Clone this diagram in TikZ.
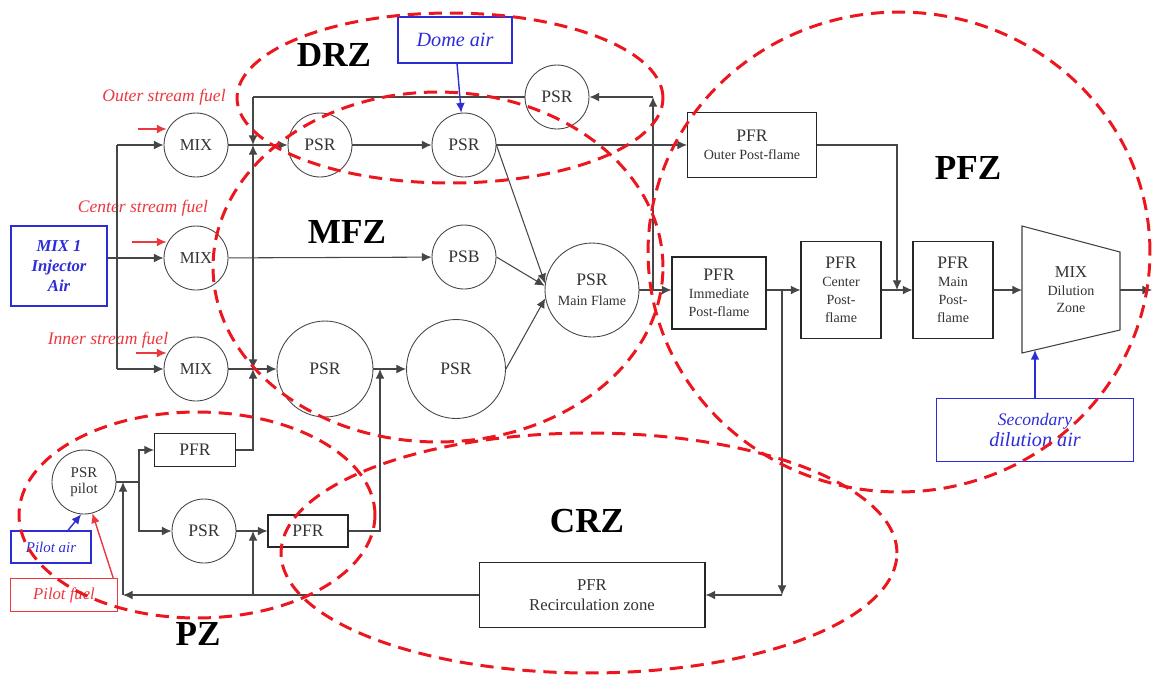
\documentclass[tikz,border=0pt]{standalone}
\usepackage{fontspec}
\setmainfont{Liberation Serif}
\usetikzlibrary{arrows.meta,calc}
\usepackage{xcolor}

\definecolor{zonered}{RGB}{236,22,30}
\definecolor{airblue}{RGB}{45,45,215}
\definecolor{fuelred}{RGB}{236,55,62}
\definecolor{linegray}{RGB}{70,70,70}

\newcommand{\reacsub}{\fontsize{8}{10}\selectfont}

\tikzset{
    reactor/.style={circle, draw=linegray, line width=0.5pt, minimum size=1.28cm, inner sep=0pt,
        align=center, text=black!80, font=\fontsize{10}{10.5}\selectfont},
    pfrbox/.style={rectangle, draw=black!85, line width=0.6pt, inner sep=0pt,
        align=center, text=black!80, font=\fontsize{10}{10.2}\selectfont},
    airbox/.style={rectangle, draw=airblue, line width=0.8pt, inner sep=0pt,
        align=center, text=airblue, font=\itshape\fontsize{10}{11.5}\selectfont},
    fuelbox/.style={rectangle, draw=fuelred, line width=0.8pt, inner sep=0pt,
        align=center, text=fuelred, font=\itshape\fontsize{9.5}{11}\selectfont},
    fuellabel/.style={text=fuelred, font=\itshape\fontsize{10}{12}\selectfont},
    zone/.style={draw=zonered, line width=1.7pt, dash pattern=on 7.5pt off 4.5pt},
    zonelabel/.style={font=\bfseries\fontsize{20}{24}\selectfont},
    flowline/.style={draw=linegray, line width=0.6pt},
    flow/.style={flowline, ->},
    airflow/.style={draw=airblue, line width=0.8pt, ->},
    fuelflow/.style={draw=fuelred, line width=0.8pt, ->},
}

\begin{document}
\begin{tikzpicture}[x=0.02cm, y=-0.02cm, >={Latex[length=5.5pt,width=5pt]}]

    \useasboundingbox (0,0) rectangle (1159,677);

    %feeds
    \node[airbox, font=\bfseries\itshape\fontsize{9.5}{11.3}\selectfont,
        minimum width=1.92cm, minimum height=1.6cm] (mixone) at (59,266) {MIX 1\\Injector\\Air};
    \node[airbox, font=\itshape\fontsize{11.5}{13}\selectfont,
        minimum width=2.28cm, minimum height=0.92cm] (dome) at (455,40) {Dome air};
    \node[airbox, minimum width=3.94cm, minimum height=1.26cm] (sda) at (1035,430)
        {Secondary\\[1pt]{\fontsize{11.5}{12}\selectfont dilution air}};
    \node[airbox, font=\itshape\fontsize{8.5}{10}\selectfont,
        minimum width=1.6cm, minimum height=0.64cm] (pair) at (51,547) {Pilot air};
    \node[fuelbox, minimum width=2.14cm, minimum height=0.66cm] (pfuel) at (64,595) {Pilot fuel};

    \node[fuellabel] (lblouter) at (164,97) {Outer stream fuel};
    \node[fuellabel] (lblcenter) at (143,208) {Center stream fuel};
    \node[fuellabel] (lblinner) at (108,340) {Inner stream fuel};

    %reactors
    \node[reactor, font=\fontsize{9.5}{10}\selectfont] (mixo) at (196,145) {MIX};
    \node[reactor, font=\fontsize{9.5}{10}\selectfont] (mixc) at (196,258) {MIX};
    \node[reactor, font=\fontsize{9.5}{10}\selectfont] (mixi) at (196,369) {MIX};
    \node[reactor] (psra) at (320,145) {PSR};
    \node[reactor] (psrb) at (464,145) {PSR};
    \node[reactor] (psrr) at (557,97) {PSR};
    \node[reactor] (psb) at (464,257) {PSB};
    \node[reactor, minimum size=1.92cm] (psrc) at (325,369) {PSR};
    \node[reactor, minimum size=1.98cm] (psrd) at (456,369) {PSR};
    \node[reactor, minimum size=1.88cm] (mfl) at (592,290) {PSR\\[1pt]\reacsub Main Flame};
    \node[reactor, font=\fontsize{8.5}{9.5}\selectfont] (pilot) at (84,482) {PSR\\pilot};
    \node[reactor] (psrp) at (204,531) {PSR};

    \node[pfrbox, minimum width=1.62cm, minimum height=0.66cm] (pfra) at (195,450) {PFR};
    \node[pfrbox, minimum width=1.6cm, minimum height=0.64cm] (pfrb) at (308,531) {PFR};
    \node[pfrbox, minimum width=2.58cm, minimum height=1.3cm] (ofl) at (752,145)
        {PFR\\\reacsub Outer Post-flame};
    \node[pfrbox, minimum width=1.88cm, minimum height=1.44cm] (ipf) at (719,293)
        {PFR\\\reacsub Immediate\\\reacsub Post-flame};
    \node[pfrbox, minimum width=1.6cm, minimum height=1.94cm] (cpf) at (841,290)
        {PFR\\\reacsub Center\\\reacsub Post-\\\reacsub flame};
    \node[pfrbox, minimum width=1.6cm, minimum height=1.94cm] (mpf) at (953,290)
        {PFR\\\reacsub Main\\\reacsub Post-\\\reacsub flame};
    \node[pfrbox, font=\fontsize{9.5}{11}\selectfont,
        minimum width=4.52cm, minimum height=1.3cm] (rec) at (592,595) {PFR\\Recirculation zone};

    %dilution zone
    \draw[draw=black!75, line width=0.6pt] (1022,226) -- (1120,252) -- (1120,330) -- (1022,353) -- cycle;
    \node[align=center, text=black!80, font=\fontsize{9.5}{10}\selectfont] (dztext) at (1071,290)
        {MIX\\\reacsub Dilution\\\reacsub Zone};
    \coordinate (dzin) at (1022,290);
    \coordinate (dzout) at (1120,290);
    \coordinate (dzbot) at (1035,350);
    \coordinate (exit) at (1152,290);

    %injector air
    \coordinate (injt) at (117,145);
    \coordinate (injb) at (117,369);
    \draw[flow] (mixone.east |- mixc) -- (mixc);
    \draw[flowline] (injt) -- (injb);
    \draw[flow] (injt) -- (mixo);
    \draw[flow] (injb) -- (mixi);

    %fuel streams
    \coordinate (fo) at (138,129);
    \coordinate (fc) at (132,242);
    \coordinate (fi) at (136,353);
    \draw[fuelflow] (fo) -- (fo -| mixo.155);
    \draw[fuelflow] (fc) -- (fc -| mixc.155);
    \draw[fuelflow] (fi) -- (fi -| mixi.155);

    %distribution line
    \coordinate (bt) at (253,97);
    \coordinate (bo) at (253,145);
    \coordinate (bi) at (253,369);
    \draw[flowline] (psrr.west) -- (bt);
    \draw[flow] (bt) -- (bo);
    \draw[flow, <->] (bo) -- (bi);
    \draw[flow] (pfra.east) -| (bi);
    \draw[flow] (mixo) -- (psra);
    \draw[flow] (mixc) -- (psb);
    \draw[flow] (mixi) -- (psrc);

    %flame zone
    \coordinate (bv) at (380,369);
    \draw[flow] (psra) -- (psrb);
    \draw[flow] (psrb) -- (ofl);
    \draw[flow] (psrb.east) -- (mfl.172);
    \draw[flow] (psb.east) -- (mfl.175);
    \draw[flow] (psrd.east) -- (mfl.190);
    \draw[flow] (psrc) -- (psrd);
    \draw[flow] (pfrb.east) -| (bv);

    %main flame outlet
    \coordinate (rt) at (653,97);
    \draw[flow] (mfl) -- (mfl -| ipf.west);
    \draw[flow] (mfl -| rt) -- (rt);
    \draw[flow] (rt) -- (psrr);

    %post-flame
    \coordinate (od) at (897,290);
    \coordinate (rv) at (782,290);
    \coordinate (rc) at (782,595);
    \draw[flow] (ofl.east) -| (od);
    \draw[flow] (ipf.east |- cpf) -- (cpf);
    \draw[flow] (cpf) -- (mpf);
    \draw[flow] (mpf) -- (dzin);
    \draw[flow] (dzout) -- (exit);
    \draw[flow] (rv) -- (rc);
    \draw[flow] (rc) -- (rec);

    %recirculation
    \coordinate (rl) at (123,595);
    \coordinate (rlt) at (123,482);
    \coordinate (rm) at (253,595);
    \draw[flow] (rec) -- (rl);
    \draw[flow] (rl) -- (rlt);
    \draw[flow] (rm) -- (rm |- pfrb);

    %pilot
    \coordinate (pj) at (139,482);
    \draw[flowline] (pilot) -- (pj);
    \draw[flow] (pj) |- (pfra);
    \draw[flow] (pj) |- (psrp);
    \draw[flow] (psrp) -- (pfrb);

    %air and fuel inlets
    \draw[airflow] (dome) -- (psrb);
    \draw[airflow] (sda) -- (dzbot);
    \draw[airflow] ([xshift=0.34cm]pair.north) -- (pilot.265);
    \draw[fuelflow] ([xshift=-0.1cm]pfuel.north east) -- (pilot.285);

    %zones
    \draw[zone] (450,98) ellipse [x radius=4.26cm, y radius=1.7cm];
    \draw[zone] (438,267) ellipse [x radius=4.5cm, y radius=3.5cm];
    \draw[zone] (899,252) ellipse [x radius=5.02cm, y radius=4.8cm];
    \draw[zone] (197,515) ellipse [x radius=3.56cm, y radius=2.06cm];
    \draw[zone] (589,553) ellipse [x radius=6.16cm, y radius=2.4cm];

    \node[zonelabel] (lbldrz) at (334,55) {DRZ};
    \node[zonelabel] (lblmfz) at (347,232) {MFZ};
    \node[zonelabel] (lblpfz) at (968,168) {PFZ};
    \node[zonelabel] (lblcrz) at (587,521) {CRZ};
    \node[zonelabel] (lblpz) at (198,634) {PZ};

\end{tikzpicture}
\end{document}
